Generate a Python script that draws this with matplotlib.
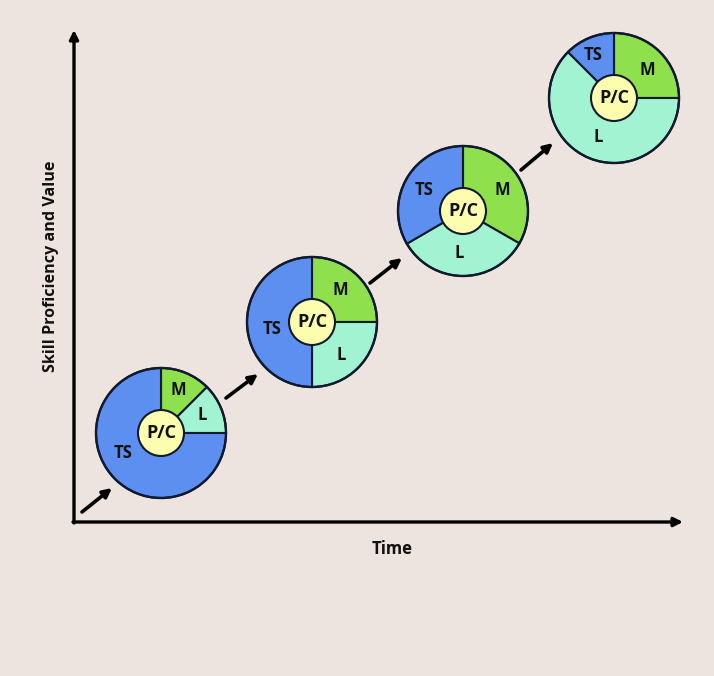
import matplotlib
matplotlib.use("Agg")
import matplotlib.pyplot as plt
from matplotlib.patches import Circle

plt.rcParams['font.family'] = ['Open Sans', 'DejaVu Sans']

# ---- data ----
segment_names = ["TS", "M", "L"]
# shares of each stage's ring (clockwise from 12 o'clock, order given per stage)
stage1_order = ["M", "L", "TS"]
stage1_values = [12.5, 12.5, 75.0]
stage2_order = ["M", "L", "TS"]
stage2_values = [25.0, 25.0, 50.0]
stage3_order = ["M", "L", "TS"]
stage3_values = [33.3, 33.3, 33.4]
stage4_order = ["M", "L", "TS"]
stage4_values = [25.0, 62.5, 12.5]
center_label = "P/C"
x_label = "Time"
y_label = "Skill Proficiency and Value"

# ---- layout / style ----
W, H = 714, 676
BG = "#EEE4DF"
colors = {"TS": "#5C8FF0", "M": "#8EE04C", "L": "#A2F3D2"}
core_color = "#FDFDB0"
centers_px = [(161, 433), (312, 322), (463, 211), (614, 98)]
radius = 65
core_r = 23
# label offsets (px, y down) relative to pie center
label_offsets = [
    {"M": (17, -43), "L": (41, -18), "TS": (-38, 20)},
    {"M": (28, -32), "L": (29, 33), "TS": (-40, 7)},
    {"M": (39, -21), "L": (-4, 42), "TS": (-39, -21)},
    {"M": (33, -28), "L": (-16, 39), "TS": (-21, -43)},
]
arrows_px = [((82, 512), (112, 488)), ((226, 398), (258, 374)),
             ((370, 283), (402, 258)), ((521, 170), (553, 143))]

stages = [(stage1_order, stage1_values), (stage2_order, stage2_values),
          (stage3_order, stage3_values), (stage4_order, stage4_values)]

fig = plt.figure(figsize=(W / 100, H / 100), dpi=100, facecolor=BG)
ax = fig.add_axes([0, 0, 1, 1])
ax.set_facecolor(BG)

def P(x, y):
    return (x, H - y)

for (order, vals), (cx, cy), offs in zip(stages, centers_px, label_offsets):
    ax.pie(vals, colors=[colors[n] for n in order], center=P(cx, cy),
           radius=radius, startangle=90, counterclock=False, frame=True,
           wedgeprops=dict(edgecolor="#111a2e", linewidth=1.5))
    ax.add_patch(Circle(P(cx, cy), radius, fill=False, edgecolor="#111a2e",
                        linewidth=1.7, zorder=3))
    ax.add_patch(Circle(P(cx, cy), core_r, facecolor=core_color,
                        edgecolor="#111a2e", linewidth=1.5, zorder=4))
    ax.text(*P(cx, cy), center_label, ha="center", va="center",
            fontsize=13, fontweight="bold", color="#111", zorder=5)
    for n in order:
        dx, dy = offs[n]
        ax.text(*P(cx + dx, cy + dy), n, ha="center", va="center",
                fontsize=12, fontweight="bold", color="#111", zorder=5)

for (t, h) in arrows_px:
    ax.annotate("", xy=P(*h), xytext=P(*t),
                arrowprops=dict(arrowstyle="-|>", color="black", lw=2.6,
                                mutation_scale=13, shrinkA=0, shrinkB=0))

# axes arrows
ax.annotate("", xy=P(74, 30), xytext=P(74, 523),
            arrowprops=dict(arrowstyle="-|>", color="black", lw=2.4,
                            mutation_scale=13, shrinkA=0, shrinkB=0))
ax.annotate("", xy=P(683, 522), xytext=P(73, 522),
            arrowprops=dict(arrowstyle="-|>", color="black", lw=2.4,
                            mutation_scale=13, shrinkA=0, shrinkB=0))

ax.text(*P(392, 549), x_label, ha="center", va="center", fontsize=12,
        fontweight="bold", color="#111")
ax.text(*P(51, 266), y_label, ha="center", va="center", rotation=90,
        fontsize=11.6, fontweight="bold", color="#111")

ax.set_xlim(0, W)
ax.set_ylim(0, H)
ax.set_aspect("equal")
ax.axis("off")
fig.savefig("out.png", dpi=100, facecolor=BG)
